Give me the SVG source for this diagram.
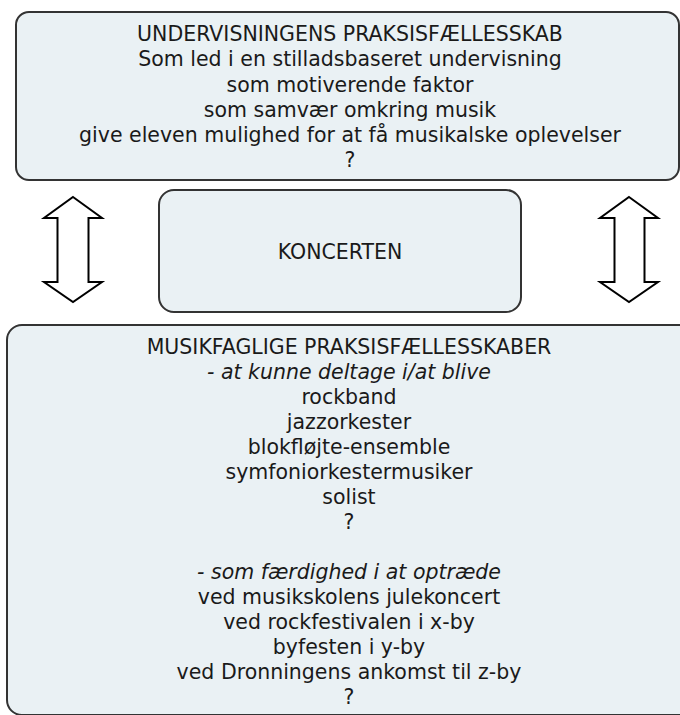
<svg xmlns="http://www.w3.org/2000/svg" width="680" height="715" viewBox="0 0 680 715">
<style>
.box{fill:#eaf1f4;stroke:#333;stroke-width:2}
.arrow{fill:#fff;stroke:#000;stroke-width:2;stroke-linejoin:miter}
text{font-family:"DejaVu Sans",Verdana,sans-serif;font-size:20.5px;fill:#1a1a1a;text-anchor:middle}
.it{font-style:italic}
</style>
<rect width="680" height="715" fill="#fff"/>
<g id="undervisning">
<rect class="box" x="16" y="12" width="663" height="168" rx="13"/>
<text x="350" y="41">UNDERVISNINGENS PRAKSISFÆLLESSKAB</text>
<text x="350" y="66">Som led i en stilladsbaseret undervisning</text>
<text x="350" y="91.5">som motiverende faktor</text>
<text x="350" y="117">som samvær omkring musik</text>
<text x="350" y="142">give eleven mulighed for at få musikalske oplevelser</text>
<text x="350" y="167">?</text>
</g>
<g id="koncerten">
<rect class="box" x="159" y="190" width="362" height="122" rx="15"/>
<text x="340" y="259">KONCERTEN</text>
</g>
<g id="musikfaglige">
<rect class="box" x="7" y="325" width="690" height="390" rx="15"/>
<text x="349" y="354">MUSIKFAGLIGE PRAKSISFÆLLESSKABER</text>
<text x="349" y="379" class="it">- at kunne deltage i/at blive</text>
<text x="349" y="404">rockband</text>
<text x="349" y="429">jazzorkester</text>
<text x="349" y="454">blokfløjte-ensemble</text>
<text x="349" y="479">symfoniorkestermusiker</text>
<text x="349" y="504">solist</text>
<text x="349" y="529">?</text>
<text x="349" y="579" class="it">- som færdighed i at optræde</text>
<text x="349" y="604">ved musikskolens julekoncert</text>
<text x="349" y="629">ved rockfestivalen i x-by</text>
<text x="349" y="654">byfesten i y-by</text>
<text x="349" y="679">ved Dronningens ankomst til z-by</text>
<text x="349" y="704">?</text>
</g>
<g id="connectors">
<path class="arrow" d="M73,197 L102,218 L88.5,218 L88.5,282 L102,282 L73,302 L44,282 L57.5,282 L57.5,218 L44,218 Z"/>
<path class="arrow" d="M629,197 L658,218 L644.5,218 L644.5,282 L658,282 L629,302 L600,282 L614.5,282 L614.5,218 L600,218 Z"/>
</g>
</svg>
